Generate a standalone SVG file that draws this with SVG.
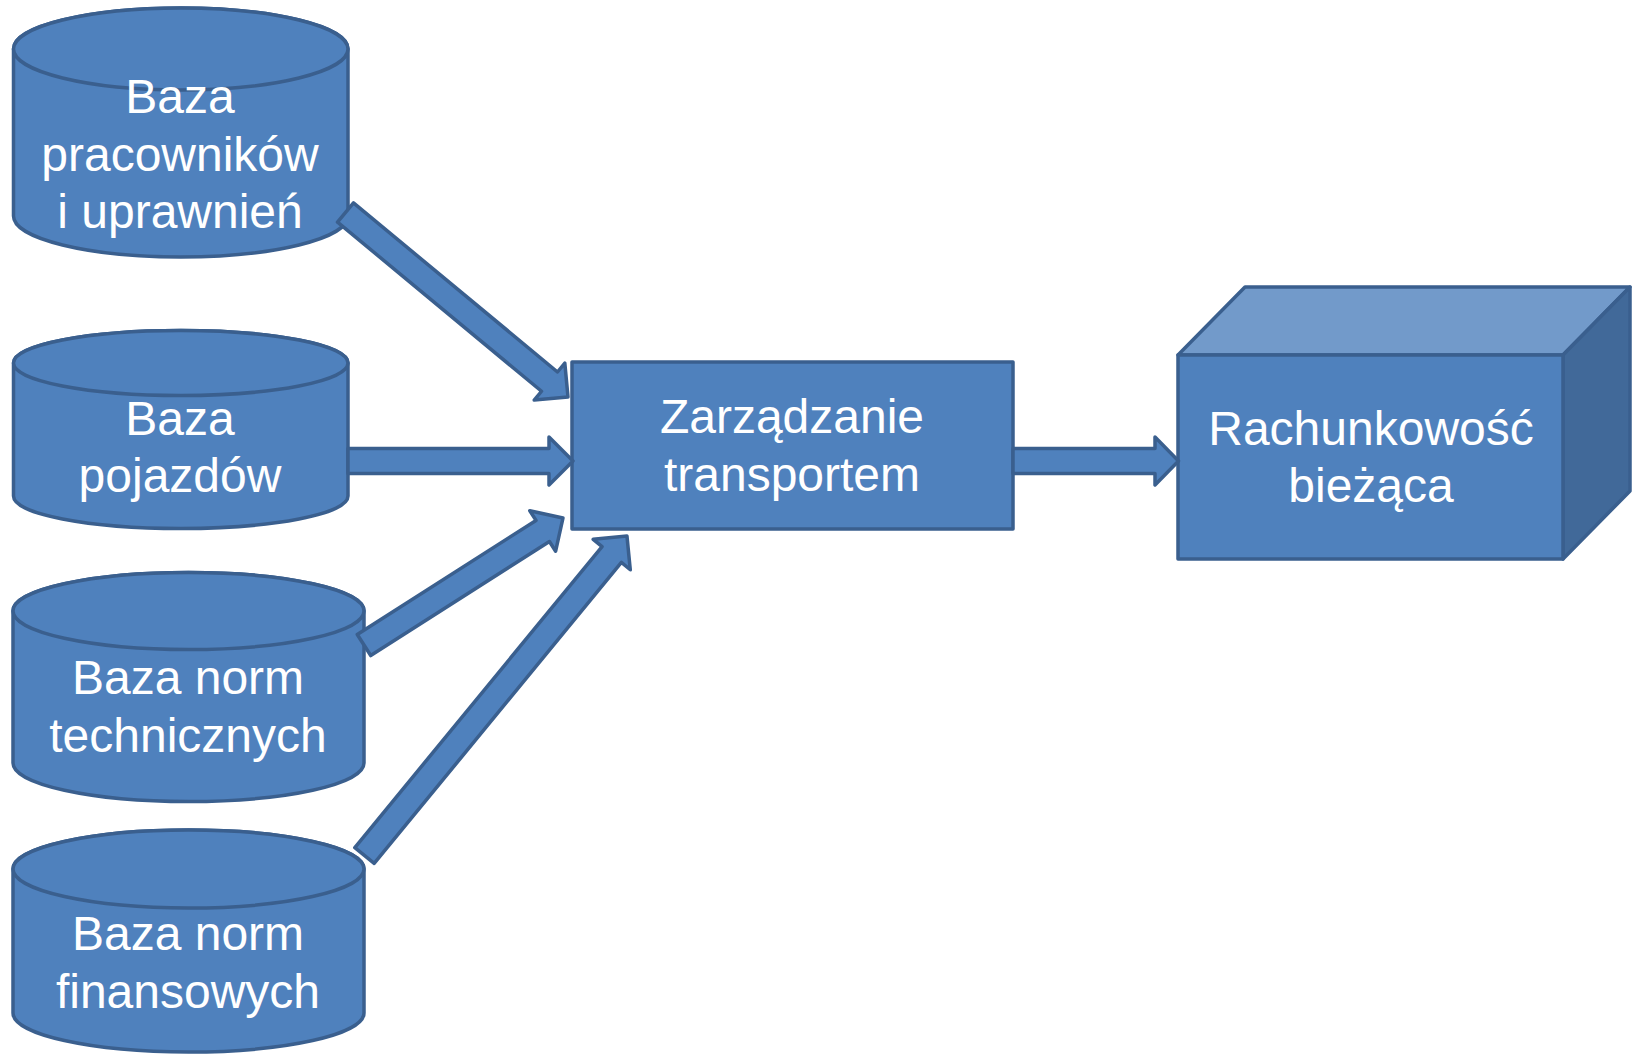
<svg xmlns="http://www.w3.org/2000/svg" width="1634" height="1055" viewBox="0 0 1634 1055">
<style>
.shape{fill:#4F81BD;stroke:#3A5F8E;stroke-width:3.5;stroke-linejoin:round}
.top{fill:#729ACA;stroke:#3A5F8E;stroke-width:3.5;stroke-linejoin:round}
.side{fill:#416999;stroke:#3A5F8E;stroke-width:3.5;stroke-linejoin:round}
.lbl{font-family:"Liberation Sans",Arial,sans-serif;font-size:48px;fill:#FFFFFF;text-anchor:middle}
</style>
<rect width="1634" height="1055" fill="#FFFFFF"/>
<g id="node-pracownicy">
<path class="shape" d="M13.5,49 A167.25,41 0 0 1 348,49 V216 A167.25,41 0 0 1 13.5,216 Z"/>
<ellipse class="shape" cx="180.75" cy="49" rx="167.25" ry="41"/>
<text class="lbl" x="180" y="113">Baza</text>
<text class="lbl" x="180" y="170.5">pracowników</text>
<text class="lbl" x="180" y="228">i uprawnień</text>
</g>
<g id="node-pojazdy">
<path class="shape" d="M13.5,363 A167.25,32.5 0 0 1 348,363 V496 A167.25,32.5 0 0 1 13.5,496 Z"/>
<ellipse class="shape" cx="180.75" cy="363" rx="167.25" ry="32.5"/>
<text class="lbl" x="180" y="435">Baza</text>
<text class="lbl" x="180" y="492">pojazdów</text>
</g>
<g id="node-techniczne">
<path class="shape" d="M13,611 A175.5,38.5 0 0 1 364,611 V763 A175.5,38.5 0 0 1 13,763 Z"/>
<ellipse class="shape" cx="188.5" cy="611" rx="175.5" ry="38.5"/>
<text class="lbl" x="188" y="694">Baza norm</text>
<text class="lbl" x="188" y="751.5">technicznych</text>
</g>
<g id="node-finansowe">
<path class="shape" d="M13,869 A175.5,39 0 0 1 364,869 V1013 A175.5,39 0 0 1 13,1013 Z"/>
<ellipse class="shape" cx="188.5" cy="869" rx="175.5" ry="39"/>
<text class="lbl" x="188" y="950">Baza norm</text>
<text class="lbl" x="188" y="1008">finansowych</text>
</g>
<g id="node-zarzadzanie">
<rect class="shape" x="572" y="362" width="441" height="167"/>
<text class="lbl" x="792" y="433">Zarządzanie</text>
<text class="lbl" x="792" y="490.5">transportem</text>
</g>
<g id="node-rachunkowosc">
<polygon class="top" points="1178,355 1245,287 1630,287 1563,355"/>
<polygon class="side" points="1563,355 1630,287 1630,491 1563,559"/>
<rect class="shape" x="1178" y="355" width="385" height="204"/>
<text class="lbl" x="1371" y="445">Rachunkowość</text>
<text class="lbl" x="1371" y="501.5">bieżąca</text>
</g>
<g id="connectors">
<polygon class="shape" transform="translate(345.5,212.5) rotate(39.66)" points="0,-12.5 265,-12.5 265,-24 289,0 265,24 265,12.5 0,12.5"/>
<polygon class="shape" transform="translate(348,461)" points="0,-12.5 201,-12.5 201,-24 225,0 201,24 201,12.5 0,12.5"/>
<polygon class="shape" transform="translate(364,645) rotate(-32.54)" points="0,-12.5 212,-12.5 212,-24 236,0 212,24 212,12.5 0,12.5"/>
<polygon class="shape" transform="translate(364.5,855.5) rotate(-50.6)" points="0,-12.5 389.5,-12.5 389.5,-24 413.5,0 389.5,24 389.5,12.5 0,12.5"/>
<polygon class="shape" transform="translate(1013,461)" points="0,-12.5 142,-12.5 142,-24 165.5,0 142,24 142,12.5 0,12.5"/>
</g>
</svg>
